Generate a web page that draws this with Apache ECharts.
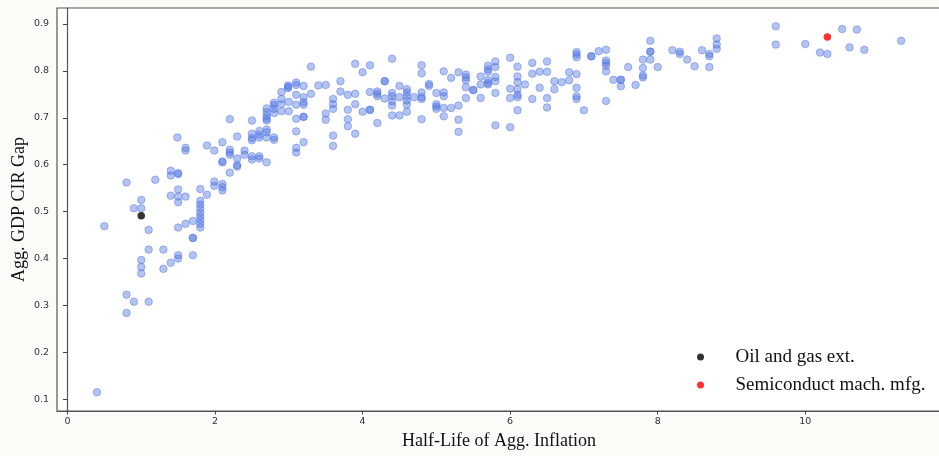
<!DOCTYPE html>
<html>
<head>
<meta charset="utf-8">
<script src="https://cdn.jsdelivr.net/npm/echarts@6/dist/echarts.min.js"></script>
<style>
html,body{margin:0;padding:0;background:#fcfbf8;}
#chart{width:939px;height:456px;}
</style>
</head>
<body>
<div id="chart"></div>
<script>
// Industry points: [half-life of agg. inflation, agg. GDP CIR gap]
const industryPoints = [
[0.40,0.115],[0.50,0.469],[0.80,0.562],[0.80,0.323],[0.80,0.284],[0.90,0.507],[0.90,0.308],
[1.00,0.525],[1.00,0.507],[1.00,0.397],[1.00,0.382],[1.00,0.368],[1.10,0.461],[1.10,0.419],[1.10,0.308],
[1.19,0.568],[1.30,0.419],[1.30,0.378],[1.40,0.587],[1.40,0.577],[1.40,0.534],[1.40,0.391],
[1.49,0.658],[1.50,0.582],[1.50,0.580],[1.50,0.547],[1.50,0.532],[1.50,0.520],[1.50,0.466],[1.50,0.407],[1.50,0.400],
[1.60,0.636],[1.60,0.630],[1.60,0.532],[1.60,0.474],[1.70,0.480],[1.70,0.444],[1.70,0.444],[1.70,0.407],
[1.80,0.548],[1.80,0.523],[1.80,0.515],[1.80,0.507],[1.80,0.498],[1.80,0.490],[1.80,0.482],[1.80,0.474],[1.80,0.466],
[1.89,0.641],[1.89,0.536],[1.99,0.630],[1.99,0.564],[1.99,0.555],
[2.10,0.648],[2.10,0.607],[2.10,0.605],[2.10,0.559],[2.10,0.552],[2.10,0.545],
[2.20,0.697],[2.20,0.632],[2.20,0.626],[2.20,0.621],[2.20,0.583],
[2.30,0.660],[2.30,0.613],[2.30,0.599],[2.30,0.596],[2.40,0.630],[2.40,0.621],
[2.50,0.694],[2.50,0.666],[2.50,0.657],[2.50,0.652],[2.50,0.618],[2.50,0.611],
[2.60,0.672],[2.60,0.664],[2.60,0.658],[2.60,0.618],[2.60,0.613],
[2.70,0.720],[2.70,0.712],[2.70,0.704],[2.70,0.698],[2.70,0.694],[2.70,0.675],[2.70,0.669],[2.70,0.658],[2.70,0.605],
[2.80,0.732],[2.80,0.727],[2.80,0.719],[2.80,0.710],[2.80,0.658],[2.80,0.653],
[2.90,0.755],[2.90,0.740],[2.90,0.729],[2.90,0.714],
[2.99,0.769],[2.99,0.766],[2.99,0.763],[3.00,0.734],[3.00,0.714],
[3.10,0.775],[3.10,0.770],[3.10,0.749],[3.10,0.728],[3.10,0.698],[3.10,0.671],[3.10,0.636],[3.10,0.626],
[3.20,0.768],[3.20,0.744],[3.20,0.733],[3.20,0.728],[3.20,0.702],[3.20,0.702],[3.20,0.648],
[3.30,0.809],[3.30,0.751],[3.40,0.769],[3.50,0.770],[3.50,0.709],[3.50,0.696],
[3.60,0.740],[3.60,0.729],[3.60,0.719],[3.60,0.662],[3.60,0.640],
[3.70,0.778],[3.70,0.756],[3.80,0.749],[3.80,0.717],[3.80,0.697],[3.80,0.682],
[3.90,0.815],[3.90,0.751],[3.90,0.729],[3.90,0.666],[4.00,0.797],[4.00,0.713],
[4.10,0.812],[4.10,0.755],[4.10,0.717],[4.10,0.717],[4.20,0.756],[4.20,0.751],[4.20,0.746],[4.20,0.689],
[4.30,0.778],[4.30,0.778],[4.30,0.741],
[4.40,0.826],[4.40,0.753],[4.40,0.746],[4.40,0.735],[4.40,0.726],[4.40,0.705],
[4.50,0.768],[4.50,0.744],[4.50,0.705],
[4.60,0.761],[4.60,0.754],[4.60,0.746],[4.60,0.737],[4.60,0.728],[4.60,0.713],[4.70,0.744],
[4.80,0.812],[4.80,0.795],[4.80,0.754],[4.80,0.744],[4.80,0.740],[4.80,0.697],
[4.90,0.772],[4.90,0.768],[5.00,0.753],[5.00,0.729],[5.00,0.724],[5.00,0.719],
[5.10,0.799],[5.10,0.754],[5.10,0.746],[5.10,0.721],[5.10,0.703],[5.20,0.785],[5.20,0.721],
[5.30,0.797],[5.30,0.726],[5.30,0.696],[5.30,0.670],
[5.40,0.792],[5.40,0.786],[5.40,0.780],[5.40,0.765],[5.40,0.742],[5.50,0.759],[5.50,0.759],
[5.60,0.788],[5.60,0.771],[5.60,0.742],
[5.70,0.811],[5.70,0.803],[5.70,0.798],[5.70,0.780],[5.70,0.774],[5.70,0.771],
[5.80,0.820],[5.80,0.808],[5.80,0.787],[5.80,0.778],[5.80,0.753],[5.80,0.684],
[6.00,0.828],[6.00,0.762],[6.00,0.742],[6.00,0.680],
[6.10,0.809],[6.10,0.788],[6.10,0.776],[6.10,0.761],[6.10,0.749],[6.10,0.744],[6.10,0.716],
[6.20,0.771],[6.30,0.817],[6.30,0.794],[6.30,0.740],[6.40,0.798],[6.40,0.764],
[6.50,0.820],[6.50,0.798],[6.50,0.742],[6.50,0.722],[6.60,0.778],[6.60,0.761],[6.70,0.776],
[6.80,0.797],[6.80,0.780],
[6.90,0.840],[6.90,0.835],[6.90,0.829],[6.90,0.793],[6.90,0.764],[6.90,0.746],[6.90,0.740],
[7.00,0.716],[7.10,0.831],[7.10,0.831],[7.20,0.842],
[7.30,0.845],[7.30,0.822],[7.30,0.817],[7.30,0.811],[7.30,0.799],[7.30,0.736],
[7.40,0.781],[7.50,0.781],[7.50,0.781],[7.50,0.767],[7.60,0.808],[7.70,0.770],
[7.80,0.824],[7.80,0.806],[7.80,0.790],[7.80,0.786],
[7.90,0.864],[7.90,0.841],[7.90,0.841],[7.90,0.824],[8.00,0.808],
[8.20,0.844],[8.30,0.841],[8.30,0.836],[8.40,0.824],[8.50,0.810],[8.60,0.844],
[8.70,0.836],[8.70,0.831],[8.70,0.808],[8.80,0.869],[8.80,0.856],[8.80,0.847],
[9.60,0.895],[9.60,0.856],[10.00,0.857],[10.20,0.839],[10.30,0.836],
[10.50,0.889],[10.60,0.850],[10.70,0.888],[10.80,0.845],[11.30,0.864]
];
const oilGasPoint = [[1.00, 0.491]];
const semiconductorPoint = [[10.30, 0.872]];
const xTickValues = [0, 2, 4, 6, 8, 10];
const yTickValues = [0.1, 0.2, 0.3, 0.4, 0.5, 0.6, 0.7, 0.8, 0.9];
const xTitle = 'Half-Life of Agg. Inflation';
const yTitle = 'Agg. GDP CIR Gap';
const legendNames = ['Oil and gas ext.', 'Semiconduct mach. mfg.'];

const chart = echarts.init(document.getElementById('chart'), null, {renderer: 'canvas'});
const tickFont = {fontFamily: 'DejaVu Sans', fontSize: 9.5, color: '#333'};
chart.setOption({
  animation: false,
  backgroundColor: '#fcfbf8',
  grid: {left: 57, top: 8, right: -2, bottom: 45, outerBoundsMode: 'none', containLabel: false,
         show: true, backgroundColor: '#ffffff', borderColor: '#555', borderWidth: 1.2},
  xAxis: {
    type: 'value', min: -0.142, max: 11.84,
    name: xTitle, nameLocation: 'middle', nameGap: 19,
    nameTextStyle: {fontFamily: 'Liberation Serif', fontSize: 18, color: '#111'},
    axisLine: {show: true, lineStyle: {color: '#555', width: 1.2}},
    axisTick: {show: true, customValues: xTickValues, length: 3.5, lineStyle: {color: '#444'}},
    axisLabel: Object.assign({customValues: xTickValues, margin: 6, formatter: v => String(v)}, tickFont),
    splitLine: {show: false}
  },
  yAxis: {
    type: 'value', min: 0.075, max: 0.934,
    name: yTitle, nameLocation: 'middle', nameGap: 29, nameRotate: 90, nameMoveOverlap: false,
    nameTextStyle: {fontFamily: 'Liberation Serif', fontSize: 18, color: '#111'},
    axisLine: {show: true, lineStyle: {color: '#555', width: 1.2}},
    axisTick: {show: true, customValues: yTickValues, length: 4.5, lineStyle: {color: '#444'}},
    axisLabel: Object.assign({customValues: yTickValues, margin: 8, formatter: v => v.toFixed(1)}, tickFont),
    splitLine: {show: false}
  },
  legend: {
    data: legendNames.map(n => ({name: n, icon: 'circle'})),
    orient: 'vertical', left: 692, top: 342,
    itemWidth: 60, itemHeight: 7, itemGap: 8,
    textStyle: {fontFamily: 'Liberation Serif', fontSize: 19, color: '#111', lineHeight: 20}
  },
  series: [
    {
      name: 'Industries', type: 'scatter', data: industryPoints, symbolSize: 7.5,
      itemStyle: {color: 'rgba(75,115,215,0.42)', borderColor: 'rgba(90,120,245,0.5)', borderWidth: 1, opacity: 1}
    },
    {
      name: legendNames[0], type: 'scatter', data: oilGasPoint, symbolSize: 7.5, z: 5,
      itemStyle: {color: '#000000'}
    },
    {
      name: legendNames[1], type: 'scatter', data: semiconductorPoint, symbolSize: 7.5, z: 5,
      itemStyle: {color: '#ff0000'}
    }
  ]
});
</script>
</body>
</html>
